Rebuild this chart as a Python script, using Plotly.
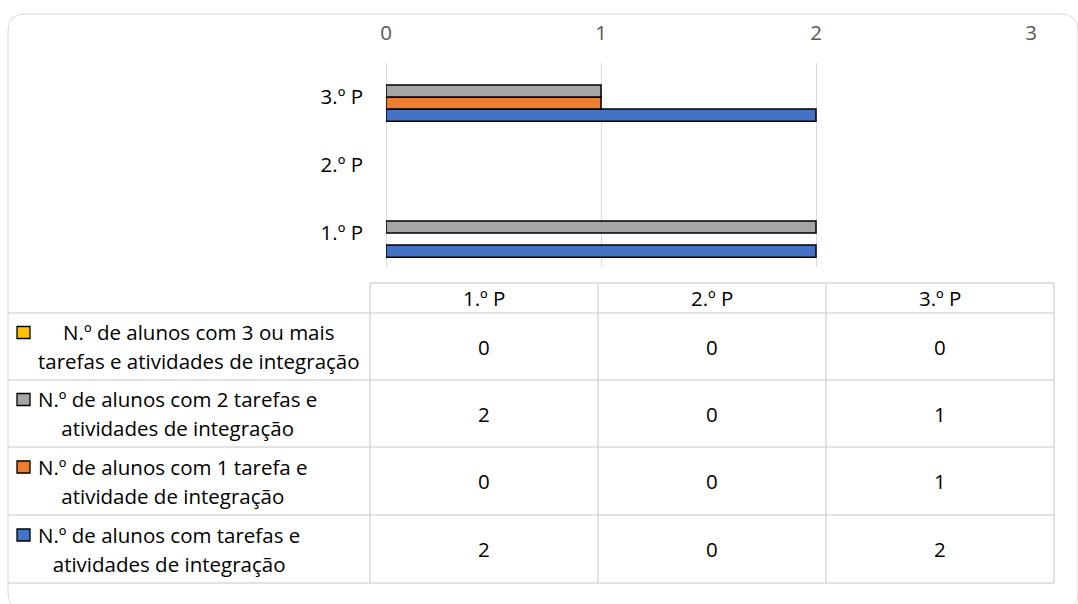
import plotly.graph_objects as go

# ---------------- data ----------------
PERIODS = ["1.º P", "2.º P", "3.º P"]
X_TICKS = [0, 1, 2, 3]
SERIES_NAMES = [
    "N.º de alunos com tarefas e<br>atividades de integração",
    "N.º de alunos com 1 tarefa e<br>atividade de integração",
    "N.º de alunos com 2 tarefas e<br>atividades de integração",
    "N.º de alunos com 3 ou mais<br>tarefas e atividades de integração",
]
VAL_TAREFAS = [2, 0, 2]
VAL_UMA = [0, 0, 1]
VAL_DUAS = [2, 0, 1]
VAL_TRES_MAIS = [0, 0, 0]
SERIES_VALUES = [VAL_TAREFAS, VAL_UMA, VAL_DUAS, VAL_TRES_MAIS]
COLORS = ["#4472C4", "#ED7D31", "#A5A5A5", "#FFC000"]

# ---------------- layout helpers ----------------
W, H = 1078, 604
FONT = "Open Sans"
GRID = "#d9d9d9"
TXT = 20.5


def px(x):
    return x / W


def py(y):
    return 1 - y / H


fig = go.Figure()
for name, vals, col in zip(SERIES_NAMES, SERIES_VALUES, COLORS):
    fig.add_trace(go.Bar(
        y=PERIODS, x=vals, orientation="h", name=name.replace("<br>", " "),
        marker=dict(color=col,
                    line=dict(color="black", width=[1.5 if v else 0 for v in vals])),
        showlegend=False, hoverinfo="x+name",
    ))

shapes = []
annotations = []

# chart border with rounded corners
x0, y0, x1, y1, r = 8, 14, 1078, 610, 17
path = (f"M {px(x0)},{py(y0 + r)} Q {px(x0)},{py(y0)} {px(x0 + r)},{py(y0)} "
        f"L {px(x1 - r)},{py(y0)} Q {px(x1)},{py(y0)} {px(x1)},{py(y0 + r)} "
        f"L {px(x1)},{py(y1 - r)} Q {px(x1)},{py(y1)} {px(x1 - r)},{py(y1)} "
        f"L {px(x0 + r)},{py(y1)} Q {px(x0)},{py(y1)} {px(x0)},{py(y1 - r)} Z")
shapes.append(dict(type="path", xref="paper", yref="paper", path=path,
                   line=dict(color=GRID, width=1), layer="below"))

# data table geometry
col_x = [370, 598, 826, 1054]
tbl_left = 8
head_top, head_bot = 283, 313
row_y = [313, 380, 447, 515, 583]


def hline(y, xa, xb):
    shapes.append(dict(type="line", xref="paper", yref="paper",
                       x0=px(xa), x1=px(xb), y0=py(y), y1=py(y),
                       line=dict(color=GRID, width=1.5)))


def vline(x, ya, yb):
    shapes.append(dict(type="line", xref="paper", yref="paper",
                       x0=px(x), x1=px(x), y0=py(ya), y1=py(yb),
                       line=dict(color=GRID, width=1.5)))


hline(head_top, col_x[0], col_x[-1])
for y in row_y:
    hline(y, tbl_left, col_x[-1])
for x in col_x:
    vline(x, head_top, row_y[-1])

# header labels
for i, p in enumerate(PERIODS):
    cx = (col_x[i] + col_x[i + 1]) / 2
    annotations.append(dict(x=px(cx), y=py((head_top + head_bot) / 2), xref="paper", yref="paper",
                            text=p, showarrow=False, xanchor="center", yanchor="middle",
                            font=dict(family=FONT, size=TXT, color="#000000")))

# rows (top to bottom: last series first)
order = list(range(len(SERIES_NAMES)))[::-1]
for ri, si in enumerate(order):
    top, bot = row_y[ri], row_y[ri + 1]
    cy = (top + bot) / 2
    # legend key
    shapes.append(dict(type="rect", xref="paper", yref="paper",
                       x0=px(17), x1=px(30), y0=py(cy - 20), y1=py(cy - 8),
                       fillcolor=COLORS[si], line=dict(color="black", width=1.3)))
    annotations.append(dict(x=px(36), y=py(cy), xref="paper", yref="paper",
                            text=f"<span style='font-size:{TXT}px'>{SERIES_NAMES[si]}</span>",
                            showarrow=False, xanchor="left", yanchor="middle", align="center",
                            font=dict(family=FONT, size=22, color="#000000")))
    for ci in range(len(PERIODS)):
        cx = (col_x[ci] + col_x[ci + 1]) / 2
        annotations.append(dict(x=px(cx), y=py(cy), xref="paper", yref="paper",
                                text=str(SERIES_VALUES[si][ci]), showarrow=False,
                                xanchor="center", yanchor="middle",
                                font=dict(family=FONT, size=TXT, color="#000000")))

fig.update_layout(
    template="none",
    width=W, height=H,
    margin=dict(l=0, r=0, t=0, b=0, pad=0),
    paper_bgcolor="white", plot_bgcolor="white",
    barmode="group", bargap=0.29, bargroupgap=0,
    font=dict(family=FONT),
    xaxis=dict(domain=[px(386), px(1031)], range=[0, 3], side="top", automargin=False,
               tickvals=X_TICKS, showgrid=True, gridcolor=GRID, gridwidth=1.3,
               zeroline=True, zerolinecolor=GRID, zerolinewidth=1.3, showline=False,
               ticks="", ticklabelstandoff=18,
               tickfont=dict(family=FONT, size=TXT, color="#595959"), fixedrange=True),
    yaxis=dict(domain=[py(267), py(63)], type="category", categoryorder="array", automargin=False,
               categoryarray=PERIODS, showgrid=False, zeroline=False, showline=False,
               ticks="", ticklabelstandoff=22,
               tickfont=dict(family=FONT, size=TXT, color="#000000"), fixedrange=True),
    shapes=shapes, annotations=annotations,
)

fig.write_html("out.html", config={"displayModeBar": False},
               post_script="document.body.style.margin='0px';")
